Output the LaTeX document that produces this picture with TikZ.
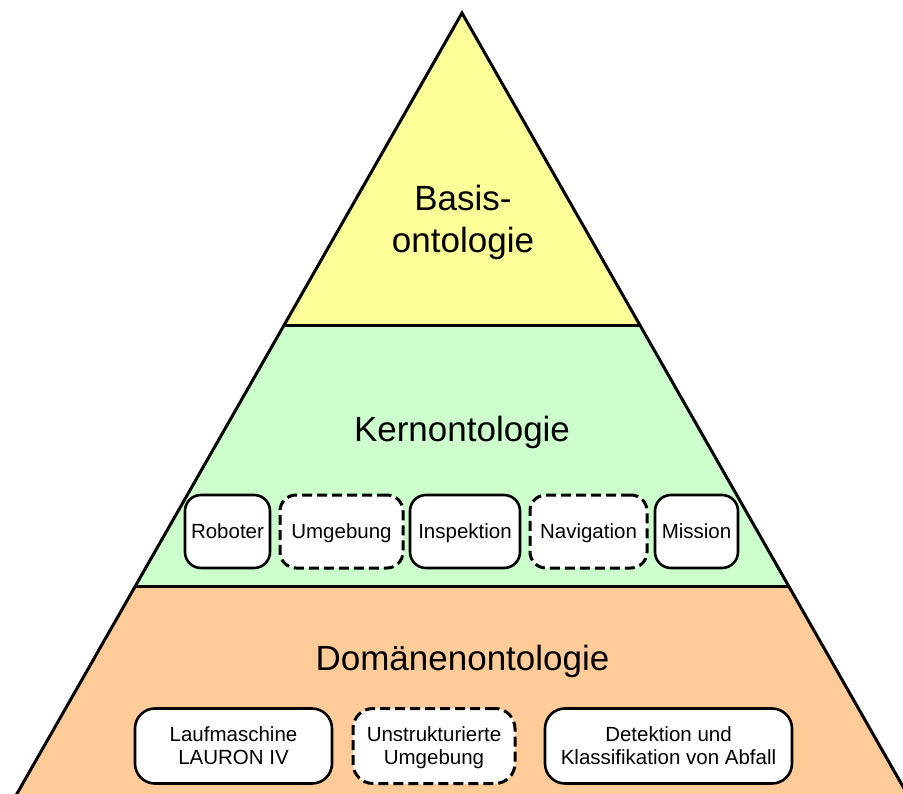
\documentclass[tikz,border=0pt]{standalone}
\usepackage{fontspec}
\setmainfont{Liberation Sans}
\begin{document}
\begin{tikzpicture}[x=1pt,y=-1pt,
  edgeline/.style={line width=3pt,line join=miter,line cap=round},
  layertitle/.style={font=\fontsize{35}{42}\selectfont,align=center,inner sep=0pt},
  corebox/.style={draw,line width=2.6pt,fill=white,rounded corners=16pt,
    minimum height=73pt,inner sep=0pt,font=\fontsize{20.5}{23}\selectfont,
    text height=14.6pt,text depth=0pt},
  domainbox/.style={draw,line width=2.6pt,fill=white,rounded corners=20pt,
    minimum height=75pt,inner sep=0pt,font=\fontsize{20.5}{23}\selectfont,
    align=center,text depth=0pt},
  dashedbox/.style={dash pattern=on 10pt off 5pt,line width=3pt}]
\definecolor{basisyellow}{RGB}{255,255,153}
\definecolor{kerngreen}{RGB}{204,255,204}
\definecolor{domorange}{RGB}{255,204,153}

\useasboundingbox (0,0) rectangle (903,794);
\clip (0,0) rectangle (903,794);

% pyramid corners (slope 0.57 px per px)
\coordinate (apex) at (462,13);
\coordinate (kl) at (283.6,326);
\coordinate (kr) at (640.4,326);
\coordinate (dl) at (135.4,586);
\coordinate (dr) at (788.6,586);
\coordinate (bl) at (7.7,810);
\coordinate (br) at (916.3,810);

% layers
\fill[basisyellow] (apex) -- (kl) -- (kr) -- cycle;
\fill[kerngreen] (kl) -- (dl) -- (dr) -- (kr) -- cycle;
\fill[domorange] (dl) -- (bl) -- (br) -- (dr) -- cycle;

% outline and layer borders
\draw[edgeline] (bl) -- (apex) -- (br);
\draw[edgeline] (kl) -- (kr);
\draw[edgeline] (dl) -- (dr);

% layer titles
\node[layertitle] (basis) at (463,222) {Basis-\\ontologie};
\node[layertitle,anchor=base] (kern) at (462,442) {Kernontologie};
\node[layertitle,anchor=base] (dom) at (462.5,670) {Domänenontologie};

% core ontology modules
\node[corebox,minimum width=85pt] (roboter) at (227.5,531.5) {Roboter};
\node[corebox,dashedbox,minimum width=123pt] (umgebung) at (341.5,531.5) {Umgebung};
\node[corebox,minimum width=110pt] (inspektion) at (465,531.5) {Inspektion};
\node[corebox,dashedbox,minimum width=117pt] (navigation) at (588.5,531.5) {Navigation};
\node[corebox,minimum width=83pt] (mission) at (696.5,531.5) {Mission};

% domain ontology modules
\node[domainbox,minimum width=197pt] (lauron) at (233.5,746) {Laufmaschine\\LAURON IV};
\node[domainbox,dashedbox,minimum width=162pt] (unstruk) at (434,746) {Unstrukturierte\\Umgebung};
\node[domainbox,minimum width=247pt] (abfall) at (668.5,746) {Detektion und\\Klassifikation von Abfall};
\end{tikzpicture}
\end{document}
